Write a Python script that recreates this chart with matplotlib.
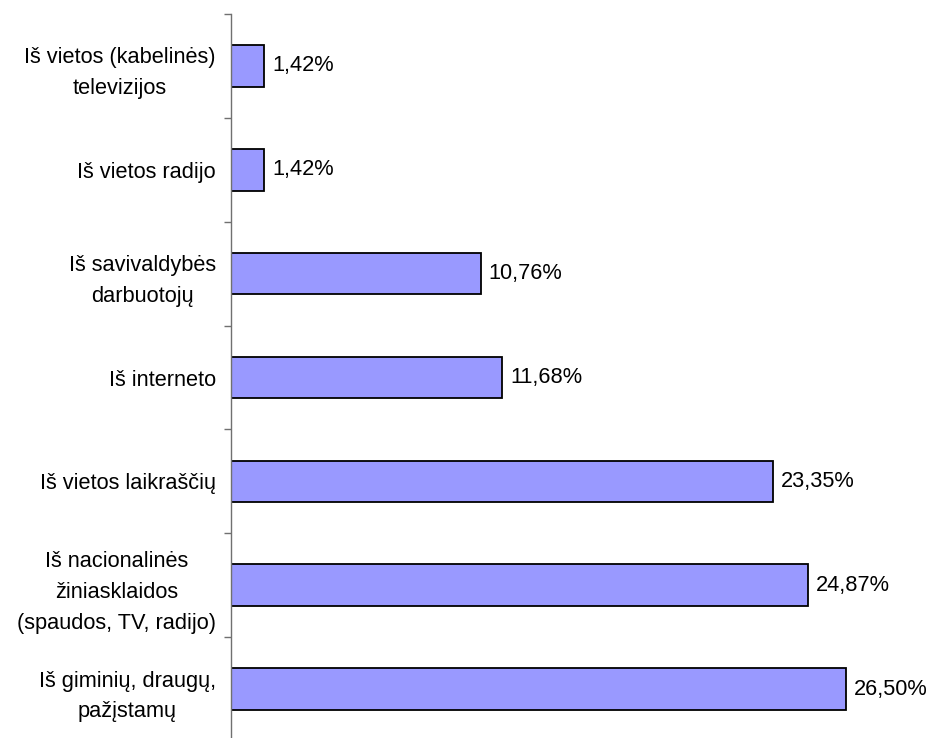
import matplotlib
matplotlib.use("Agg")
import matplotlib.pyplot as plt
from matplotlib.ticker import FixedLocator

categories = [
    "Iš vietos (kabelinės)\ntelevizijos",
    "Iš vietos radijo",
    "Iš savivaldybės\ndarbuotojų",
    "Iš interneto",
    "Iš vietos laikraščių",
    "Iš nacionalinės\nžiniasklaidos\n(spaudos, TV, radijo)",
    "Iš giminių, draugų,\npažįstamų",
]
values = [1.42, 1.42, 10.76, 11.68, 23.35, 24.87, 26.50]
value_labels = ["1,42%", "1,42%", "10,76%", "11,68%", "23,35%", "24,87%", "26,50%"]

plt.rcParams['font.family'] = ['Liberation Sans', 'DejaVu Sans']

fig = plt.figure(figsize=(9.30, 7.38), dpi=100)
W, H = 930, 738
left, right, top, bottom = 231, 928, 14, 741
ax = fig.add_axes([left / W, (H - bottom) / H, (right - left) / W, (bottom - top) / H])

n = len(categories)
pos = list(range(n))
ax.barh(pos, values, height=0.40, color="#9999FF", edgecolor="black", linewidth=1.3)
ax.set_ylim(n - 0.5, -0.5)
ax.set_xlim(0, (right - left) / 23.2)

for p, v, lab in zip(pos, values, value_labels):
    ax.annotate(lab, xy=(v, p), xytext=(8, 0), textcoords="offset pixels",
                va="center", ha="left", fontsize=15.7)

ax.set_yticks(pos)
ax.set_yticklabels(categories, fontsize=15.7)
for t in ax.get_yticklabels():
    t.set_multialignment("center")
    t.set_linespacing(1.6)
ax.tick_params(axis="y", which="major", length=0, pad=11)
ax.yaxis.set_minor_locator(FixedLocator([i - 0.5 for i in range(n + 1)]))
ax.tick_params(axis="y", which="minor", length=5, width=1, color="#707070")

for s in ["top", "right", "bottom"]:
    ax.spines[s].set_visible(False)
ax.spines["left"].set_color("#707070")
ax.spines["left"].set_linewidth(1)
ax.set_xticks([])
ax.patch.set_visible(False)

fig.savefig("out.png", dpi=100)
